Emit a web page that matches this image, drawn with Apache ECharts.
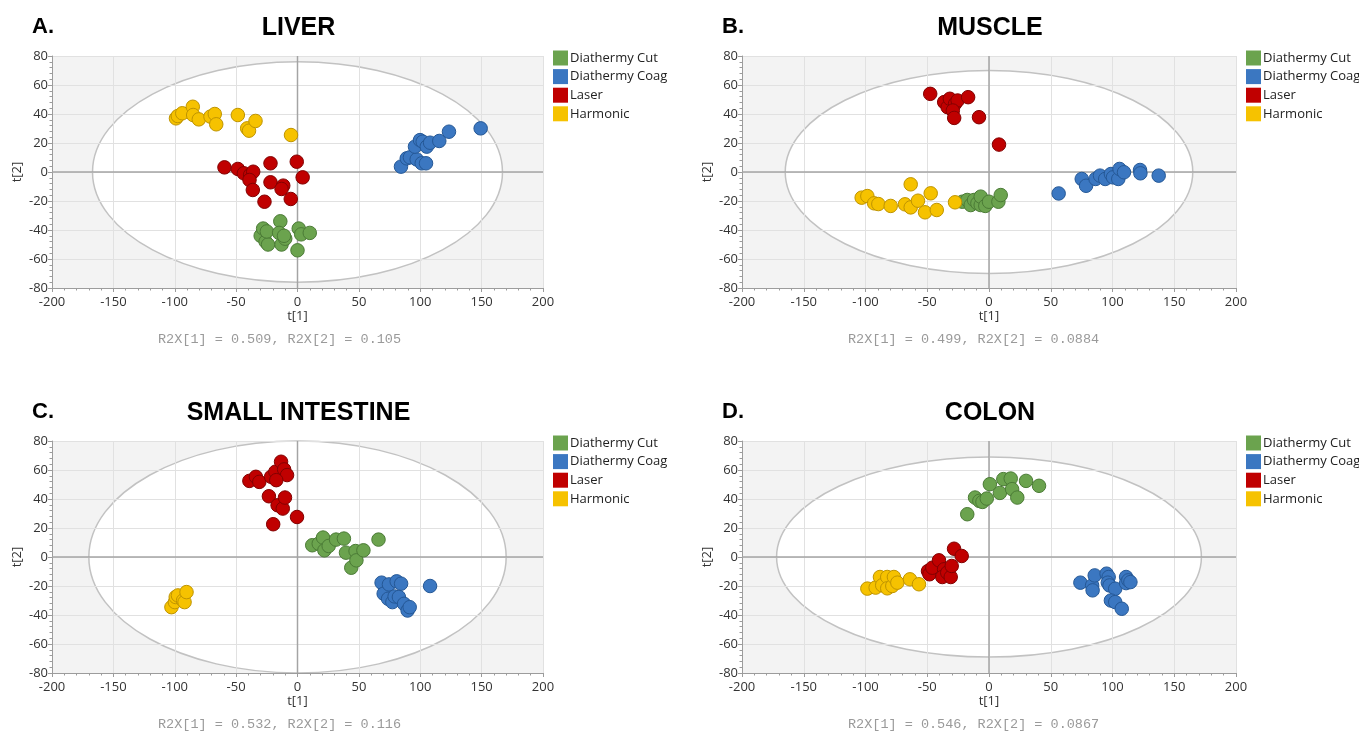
<!DOCTYPE html>
<html>
<head>
<meta charset="utf-8">
<title>PCA score plots</title>
<script src="https://cdn.jsdelivr.net/npm/echarts/dist/echarts.min.js"></script>
<style>
  html, body { margin: 0; padding: 0; background: #fff; }
  #main { width: 1359px; height: 732px; }
</style>
</head>
<body>
<div id="main"></div>
<script>
// score values [t1, t2]
const liverCut = [[-30, -44], [-28, -39], [-26, -48], [-24, -50], [-25, -41], [-14, -34], [-15, -42], [-13, -50], [-10, -46], [-11, -44], [1, -39], [3, -43], [10, -42], [0, -54]];
const liverCoag = [[84.3, 3.7], [89, 9.4], [91.6, 10.1], [97.1, 8.7], [101.2, 6], [104.7, 6], [95.7, 17.5], [99.8, 22], [102, 20.9], [105.3, 17.5], [108, 20.2], [115.5, 21.4], [123.4, 27.8], [149.2, 30.1]];
const liverLaser = [[-59.5, 3.2], [-48.6, 2.1], [-43.7, -0.9], [-38.6, -2], [-36.1, 0.2], [-39.1, -5.5], [-36.4, -12.4], [-22, 6], [-22, -7.1], [-11.6, -9.4], [-13, -11.7], [-26.9, -20.5], [-5.5, -18.6], [-0.6, 7.1], [4.2, -3.7]];
const liverHarmonic = [[-99, 37], [-97.5, 38.6], [-93.9, 40.5], [-85.3, 45], [-85, 39.3], [-80.4, 36.3], [-70.9, 38.2], [-67.4, 40], [-66.2, 32.9], [-48.6, 39.3], [-41, 30.1], [-39.5, 28.5], [-34.2, 35.2], [-5.3, 25.5]];

const muscleCut = [[-21.6, -20.5], [-17.6, -19.3], [-14.8, -22.8], [-12.1, -19.3], [-9.4, -21.6], [-6.7, -22.8], [-6.7, -17], [-3, -23.4], [0, -20.5], [7.6, -20.5], [9.5, -15.9]];
const muscleCoag = [[56.4, -14.8], [75.1, -4.8], [78.6, -9.5], [86.3, -4.8], [89.9, -2.5], [94.1, -4.8], [98.7, -1.4], [100.4, -3.7], [104.7, -4.8], [105.7, 2.1], [109.3, -0.2], [122.3, 1.4], [122.6, -0.9], [137.4, -2.5]];
const muscleLaser = [[-47.6, 53.9], [-36.3, 48.2], [-33.5, 44.7], [-31.7, 50.5], [-27.5, 47], [-25.4, 49.3], [-29.3, 42.4], [-28.2, 37.3], [-16.9, 51.6], [-8.1, 37.8], [8.1, 18.9]];
const muscleHarmonic = [[-103.1, -17.7], [-98.5, -16.6], [-93, -21.6], [-89.6, -22.1], [-79.6, -23.4], [-68, -22.3], [-63.4, -24.4], [-63.4, -8.5], [-57.5, -19.8], [-47.2, -14.7], [-51.8, -27.8], [-42.3, -26.2], [-27.5, -20.9]];

const intestineCut = [[12, 8.1], [17.3, 9.2], [20.8, 13.4], [21.9, 4.6], [25.4, 7.6], [31.4, 12], [37.8, 12.7], [39.5, 3], [43.8, -7.4], [47.3, 4.1], [48, -2.3], [53.7, 4.6], [66, 12]];
const intestineCoag = [[68.5, -17.7], [70.2, -25.3], [74.5, -18.9], [80.8, -16.8], [84.4, -18.4], [73.8, -28.8], [77.3, -31.1], [79.1, -27.2], [82.6, -27.6], [86.8, -32.3], [89.7, -36.9], [91.4, -34.6], [108, -20]];
const intestineLaser = [[-39.2, 52.5], [-33.9, 55.3], [-31.1, 51.8], [-21.5, 55.3], [-18, 58.8], [-13.4, 65.7], [-10.9, 60.4], [-8.5, 56.5], [-17.3, 53], [-23.3, 41.9], [-16.2, 35.7], [-12, 33.4], [-10.2, 41], [-19.8, 22.6], [-0.4, 27.6]];
const intestineHarmonic = [[-102.7, -34.6], [-99.9, -31.1], [-99.2, -27.6], [-97.4, -26.5], [-93.2, -30], [-92, -31.1], [-90.4, -24.2]];

const colonCut = [[-17.6, 29.5], [-11.3, 41], [-7.8, 38.7], [-5.3, 38], [-1.8, 40.3], [0.7, 50.2], [8.8, 44.2], [11.6, 53.7], [17.6, 54.1], [18.7, 46.8], [22.9, 41], [30, 52.5], [40.5, 49.1]];
const colonCoag = [[74, -17.7], [83.5, -19.6], [83.9, -23], [85.6, -12.7], [95.2, -11.5], [96.9, -13.8], [96.2, -17.7], [97.6, -19.6], [102.2, -21.9], [98.7, -30], [102.2, -31.1], [107.5, -35.7], [111, -13.8], [111, -18], [112.8, -16.1], [114.5, -17.3]];
const colonLaser = [[-49.4, -9.7], [-48.2, -11.9], [-45.9, -7.4], [-40.5, -2.3], [-36.4, -8.5], [-37.8, -13.8], [-33.8, -10.8], [-31, -13.8], [-30.2, -6.2], [-28.3, 5.7], [-22.1, 0.7]];
const colonHarmonic = [[-98.5, -21.8], [-91.8, -21.1], [-88.3, -13.8], [-86.5, -19.5], [-82.4, -13.8], [-82.4, -21.6], [-78.3, -20], [-77, -13.8], [-74.2, -17.7], [-64, -15.4], [-56.7, -18.8]];

const groupNames = ['Diathermy Cut', 'Diathermy Coag', 'Laser', 'Harmonic'];
const panelLetters = ['A.', 'B.', 'C.', 'D.'];
const panelTitles = ['LIVER', 'MUSCLE', 'SMALL INTESTINE', 'COLON'];
const r2xTexts = ['R2X[1] = 0.509, R2X[2] = 0.105', 'R2X[1] = 0.499, R2X[2] = 0.0884', 'R2X[1] = 0.532, R2X[2] = 0.116', 'R2X[1] = 0.546, R2X[2] = 0.0867'];
// Hotelling T2 ellipse half axes (t1, t2)
const ellipseT1 = [167, 165, 170, 172];
const ellipseT2 = [76, 70, 80, 69];

const panelData = [
  [liverCut, liverCoag, liverLaser, liverHarmonic],
  [muscleCut, muscleCoag, muscleLaser, muscleHarmonic],
  [intestineCut, intestineCoag, intestineLaser, intestineHarmonic],
  [colonCut, colonCoag, colonLaser, colonHarmonic]
];

const fills = ['#6ba34e', '#3b77c1', '#c00000', '#f6c200'];
const edges = ['#4b7b36', '#255896', '#820000', '#bf9400'];

// plot area boxes
const boxes = [
  { left: 52, top: 56, width: 491, height: 232 },
  { left: 742, top: 56, width: 494, height: 232 },
  { left: 52, top: 441, width: 491, height: 232 },
  { left: 742, top: 441, width: 494, height: 232 }
];

const labelFont = 'Open Sans';
const axisGray = '#9c9c9c';

let grids = [], xAxes = [], yAxes = [], legends = [], series = [], graphics = [];

boxes.forEach((b, i) => {
  grids.push({ left: b.left, top: b.top, width: b.width, height: b.height, show: true, backgroundColor: '#f3f3f3', borderWidth: 0 });

  xAxes.push({
    gridIndex: i, type: 'value', min: -200, max: 200, interval: 50, z: 3,
    name: 't[1]', nameLocation: 'middle', nameGap: 22,
    nameTextStyle: { color: '#333', fontSize: 13, fontFamily: labelFont },
    axisLine: { show: true, onZero: false, lineStyle: { color: axisGray } },
    axisTick: { show: true, length: 4, lineStyle: { color: axisGray } },
    minorTick: { show: true, splitNumber: 5, length: 2.5, lineStyle: { color: axisGray } },
    splitLine: { show: true, lineStyle: { color: '#e1e1e1' } },
    axisLabel: { color: '#333', fontSize: 13, fontFamily: labelFont, margin: 8 }
  });
  yAxes.push({
    gridIndex: i, type: 'value', min: -80, max: 80, interval: 20, z: 3,
    name: 't[2]', nameLocation: 'middle', nameGap: 28,
    nameTextStyle: { color: '#333', fontSize: 13, fontFamily: labelFont },
    axisLine: { show: true, onZero: false, lineStyle: { color: axisGray } },
    axisTick: { show: true, length: 4, lineStyle: { color: axisGray } },
    minorTick: { show: true, splitNumber: 5, length: 2.5, lineStyle: { color: axisGray } },
    splitLine: { show: true, lineStyle: { color: '#e1e1e1' } },
    axisLabel: { color: '#333', fontSize: 13, fontFamily: labelFont, margin: 4 }
  });

  legends.push({
    left: b.left + b.width + 5, top: b.top - 10.5, orient: 'vertical',
    data: groupNames, icon: 'rect', itemWidth: 15, itemHeight: 15, itemGap: 3.6,
    selectedMode: false, itemStyle: { borderWidth: 0 },
    textStyle: { color: '#222', fontSize: 13, fontFamily: labelFont, padding: [0, 0, 0, -3] }
  });

  // white ellipse on the grey plot background
  series.push({
    type: 'custom', name: 'ellipse' + i, xAxisIndex: i, yAxisIndex: i, z: 1, silent: true,
    data: [[0, 0]],
    renderItem: (params, api) => {
      const c = api.coord([api.value(0), api.value(1)]);
      const s = api.size([ellipseT1[i], ellipseT2[i]]);
      return {
        type: 'ellipse',
        shape: { cx: c[0], cy: c[1], rx: s[0], ry: s[1] },
        style: { fill: '#fff', stroke: '#c2c2c2', lineWidth: 1.5 }
      };
    }
  });
  // origin cross lines
  series.push({
    type: 'custom', name: 'cross' + i, xAxisIndex: i, yAxisIndex: i, z: 4, silent: true,
    data: [[0, 0]],
    renderItem: (params, api) => {
      const l = api.coord([-200, 0]), r = api.coord([200, 0]);
      const t = api.coord([0, 80]), d = api.coord([0, -80]);
      const st = { stroke: '#a4a4a4', lineWidth: 1.5 };
      return {
        type: 'group', children: [
          { type: 'line', shape: { x1: l[0], y1: l[1], x2: r[0], y2: r[1] }, style: st },
          { type: 'line', shape: { x1: t[0], y1: t[1], x2: d[0], y2: d[1] }, style: st }
        ]
      };
    }
  });

  panelData[i].forEach((pts, g) => {
    series.push({
      type: 'scatter', name: groupNames[g], xAxisIndex: i, yAxisIndex: i, z: 5,
      data: pts, symbol: 'circle', symbolSize: 13.5,
      itemStyle: { color: fills[g], borderColor: edges[g], borderWidth: 1, opacity: 1 },
      emphasis: { disabled: true }
    });
  });

  const cx = b.left + b.width / 2;
  graphics.push({
    type: 'text', x: b.left - 20, y: b.top - 29,
    style: { text: panelLetters[i], font: 'bold 22px "Liberation Sans", Arial', fill: '#000', align: 'left', verticalAlign: 'middle' }
  });
  graphics.push({
    type: 'text', x: cx + 1, y: b.top - 28,
    style: { text: panelTitles[i], font: 'bold 25px "Liberation Sans", Arial', fill: '#000', align: 'center', verticalAlign: 'middle' }
  });
  graphics.push({
    type: 'text', x: b.left + 106, y: b.top + b.height + 51,
    style: { text: r2xTexts[i], font: '13.5px "Liberation Mono", "DejaVu Sans Mono", monospace', fill: '#9a9a9a', align: 'left', verticalAlign: 'middle' }
  });
});

const myChart = echarts.init(document.getElementById('main'));
myChart.setOption({
  animation: false,
  backgroundColor: '#fff',
  grid: grids,
  xAxis: xAxes,
  yAxis: yAxes,
  legend: legends,
  series: series,
  graphic: graphics
});
window.onresize = myChart.resize;
</script>
</body>
</html>
